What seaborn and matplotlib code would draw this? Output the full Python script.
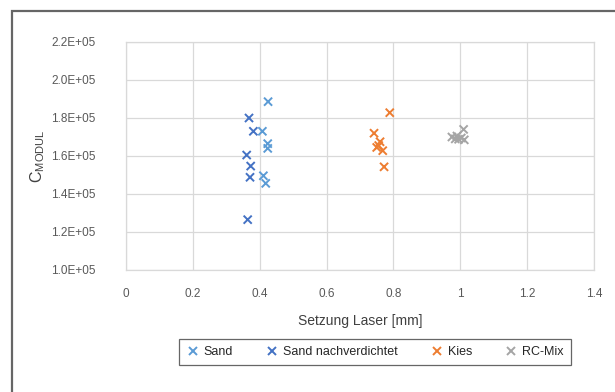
import matplotlib
matplotlib.use("Agg")
import matplotlib.pyplot as plt
from matplotlib.patches import Rectangle
from matplotlib.ticker import FuncFormatter, MultipleLocator
import seaborn as sns
import pandas as pd

# Measured settlement (laser) vs. C_MODUL per material
sand_x = [0.425, 0.408, 0.424, 0.424, 0.411, 0.418]
sand_y = [1.886e5, 1.730e5, 1.665e5, 1.640e5, 1.496e5, 1.456e5]

sand_nv_x = [0.368, 0.381, 0.361, 0.373, 0.371, 0.364]
sand_nv_y = [1.800e5, 1.730e5, 1.605e5, 1.547e5, 1.488e5, 1.265e5]

kies_x = [0.789, 0.742, 0.760, 0.750, 0.768, 0.756, 0.772]
kies_y = [1.828e5, 1.720e5, 1.675e5, 1.645e5, 1.628e5, 1.655e5, 1.543e5]

rc_x = [0.975, 0.985, 0.995, 1.003, 1.010, 1.012, 0.990]
rc_y = [1.700e5, 1.690e5, 1.688e5, 1.695e5, 1.740e5, 1.685e5, 1.705e5]

series_names = ["Sand", "Sand nachverdichtet", "Kies", "RC-Mix"]
series_colors = ["#5B9BD5", "#4472C4", "#ED7D31", "#A5A5A5"]

df = pd.concat([
    pd.DataFrame({"x": sand_x, "y": sand_y, "Material": series_names[0]}),
    pd.DataFrame({"x": sand_nv_x, "y": sand_nv_y, "Material": series_names[1]}),
    pd.DataFrame({"x": kies_x, "y": kies_y, "Material": series_names[2]}),
    pd.DataFrame({"x": rc_x, "y": rc_y, "Material": series_names[3]}),
], ignore_index=True)

sns.set_style("white")
plt.rcParams["font.family"] = ["Liberation Sans", "DejaVu Sans"]
plt.rcParams["mathtext.fontset"] = "custom"
plt.rcParams["mathtext.rm"] = "Liberation Sans"

fig = plt.figure(figsize=(6.15, 3.92), dpi=100)
ax = fig.add_axes([126 / 615, 1 - 270 / 392, (594 - 126) / 615, (270 - 42) / 392])

sns.scatterplot(
    data=df, x="x", y="y", hue="Material",
    hue_order=series_names, palette=series_colors,
    marker="x", s=34, linewidth=1.4, ax=ax, legend=True, zorder=3,
)

ax.set_xlim(0, 1.4)
ax.set_ylim(1.0e5, 2.2e5)
ax.xaxis.set_major_locator(MultipleLocator(0.2))
ax.yaxis.set_major_locator(MultipleLocator(0.2e5))
ax.xaxis.set_major_formatter(FuncFormatter(lambda v, p: f"{v:g}"))
ax.yaxis.set_major_formatter(FuncFormatter(lambda v, p: f"{v:.1E}"))

ax.grid(True, color="#D9D9D9", linewidth=0.9)
ax.set_axisbelow(True)
for sp in ax.spines.values():
    sp.set_color("#D9D9D9")
    sp.set_linewidth(0.9)
ax.tick_params(axis="both", length=0, labelsize=8.5, colors="#595959")
ax.tick_params(axis="y", pad=22)
ax.tick_params(axis="x", pad=13)

ax.set_xlabel("Setzung Laser [mm]", fontsize=10, color="#404040", labelpad=10)
ax.set_ylabel(r"C$_{\mathrm{MODUL}}$", fontsize=11.5, color="#404040", labelpad=3)

handles, labels = ax.get_legend_handles_labels()
leg = ax.legend(
    handles, labels, loc="center", ncol=4, fontsize=9,
    bbox_to_anchor=(375 / 615, 1 - 352 / 392),
    bbox_transform=fig.transFigure, frameon=True, fancybox=False,
    edgecolor="#404040", handletextpad=0.4, columnspacing=2.6,
    borderpad=0.55, handlelength=1.0,
)
leg.get_frame().set_linewidth(0.9)

# Outer chart frame
fig.patches.append(Rectangle(
    (12 / 615, -0.05), 1.2, (392 - 11) / 392 + 0.05,
    transform=fig.transFigure, fill=False, edgecolor="#666666", linewidth=1.6,
))

fig.savefig("out.png", dpi=100)
